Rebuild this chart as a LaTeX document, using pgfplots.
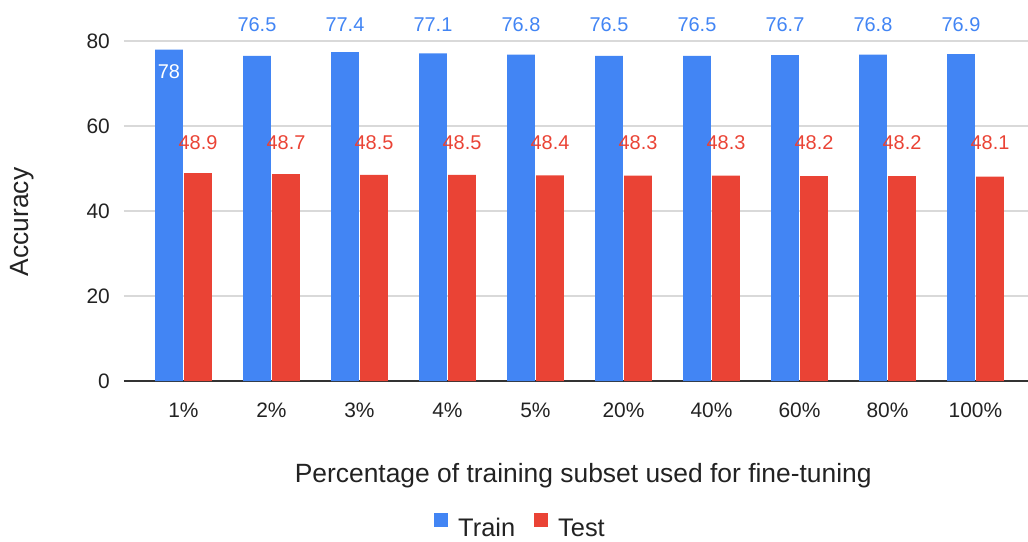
\documentclass[border=0pt]{standalone}
\usepackage{fontspec}
\setmainfont{Liberation Sans}
\usepackage{pgfplots}
\pgfplotsset{compat=1.18}
\definecolor{cblue}{HTML}{4285F4}
\definecolor{cred}{HTML}{EA4335}
\definecolor{ctext}{HTML}{222222}
\definecolor{cgrid}{HTML}{D9D9D9}
\definecolor{caxis}{HTML}{333333}
\begin{document}
\begin{tikzpicture}
\begin{axis}[
  name=ax, at={(0,0)}, anchor=south west,
  scale only axis, width=904bp, height=340bp,
  xmin=-0.676, xmax=9.597, ymin=0, ymax=80,
  clip=false,
  axis x line*=bottom, axis y line*=left,
  y axis line style={draw=none},
  x axis line style={caxis, line width=1.5bp, -},
  ytick={0,20,40,60,80},
  xtick={0,1,2,3,4,5,6,7,8,9},
  xticklabels={1\%,2\%,3\%,4\%,5\%,20\%,40\%,60\%,80\%,100\%},
  major tick length=0pt,
  ymajorgrids, grid style={cgrid, line width=1.2bp},
  /pgf/number format/assume math mode=true,
  tick label style={font=\fontsize{21}{25}\selectfont, text=ctext, inner sep=0pt},
  xticklabel style={anchor=base, yshift=-36bp},
  yticklabel style={anchor=east, xshift=-14bp},
  xlabel={Percentage of training subset used for fine-tuning},
  ylabel={Accuracy},
  label style={font=\fontsize{26.5}{30}\selectfont, text=ctext, inner sep=0pt},
  xlabel style={at={(axis description cs:0.508,-0.279)}, anchor=center},
  ylabel style={at={(axis description cs:-0.1128,0.468)}, anchor=center},
  legend columns=2,
  legend style={draw=none, fill=none, font=\fontsize{25.5}{30}\selectfont, text=ctext,
    at={(axis description cs:0.4375,-0.425)}, anchor=center,
    nodes={inner sep=0pt},
    /tikz/every odd column/.append style={column sep=10bp},
    /tikz/every even column/.append style={column sep=19bp}},
  legend image code/.code={\fill[#1, draw=none] (0bp,1bp) rectangle (14bp,15bp);},
]
\addplot[ybar, bar width=0.315, bar shift=-0.165, fill=cblue, draw=none]
  coordinates {(0,78) (1,76.5) (2,77.4) (3,77.1) (4,76.8) (5,76.5) (6,76.5) (7,76.7) (8,76.8) (9,76.9)};
\addlegendentry{Train}
\addplot[ybar, bar width=0.315, bar shift=0.165, fill=cred, draw=none]
  coordinates {(0,48.9) (1,48.7) (2,48.5) (3,48.5) (4,48.4) (5,48.3) (6,48.3) (7,48.2) (8,48.2) (9,48.1)};
\addlegendentry{Test}
% data labels
\addplot[forget plot, draw=none, mark=none, nodes near coords, point meta=explicit symbolic,
  nodes near coords style={anchor=center, text=cblue, font=\fontsize{20}{24}\selectfont, inner sep=0pt}]
  coordinates {(0.835,83.8)[76.5] (1.835,83.8)[77.4] (2.835,83.8)[77.1] (3.835,83.8)[76.8] (4.835,83.8)[76.5] (5.835,83.8)[76.5] (6.835,83.8)[76.7] (7.835,83.8)[76.8] (8.835,83.8)[76.9]};
\addplot[forget plot, draw=none, mark=none, nodes near coords, point meta=explicit symbolic,
  nodes near coords style={anchor=center, text=white, font=\fontsize{20}{24}\selectfont, inner sep=0pt}]
  coordinates {(-0.165,72.9)[78]};
\addplot[forget plot, draw=none, mark=none, nodes near coords, point meta=explicit symbolic,
  nodes near coords style={anchor=center, text=cred, font=\fontsize{20}{24}\selectfont, inner sep=0pt}]
  coordinates {(0.165,56)[48.9] (1.165,56)[48.7] (2.165,56)[48.5] (3.165,56)[48.5] (4.165,56)[48.4] (5.165,56)[48.3] (6.165,56)[48.3] (7.165,56)[48.2] (8.165,56)[48.2] (9.165,56)[48.1]};
\end{axis}
\pgfresetboundingbox
\path[use as bounding box] ([shift={(-124bp,-160bp)}]ax.south west) rectangle ([shift={(0bp,41bp)}]ax.north east);
\end{tikzpicture}
\end{document}
